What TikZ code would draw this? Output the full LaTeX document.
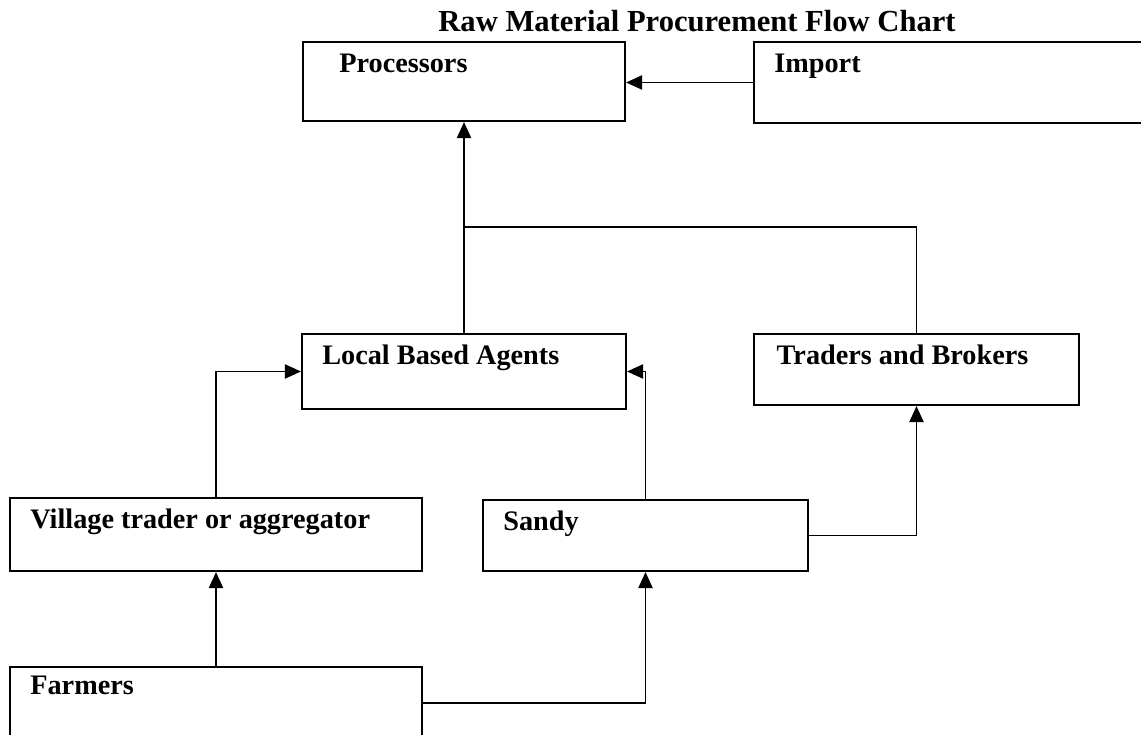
\documentclass[tikz,border=0pt]{standalone}
\usepackage{fontspec}
\setmainfont{Liberation Serif}
\usetikzlibrary{arrows.meta, fit}
\tikzset{
  box/.style={rectangle, draw=black, line width=0.9pt, inner sep=0pt},
  boxlbl/.style={anchor=base west, inner sep=0pt,
    font=\fontsize{12}{14}\selectfont\bfseries, xshift=8.9pt, yshift=-13.2pt},
  ttl/.style={font=\fontsize{13}{15}\selectfont\bfseries, inner sep=0pt},
  arrow/.style={-{Triangle[length=6.8pt, width=6pt]}, line width=0.75pt, color=black},
  line/.style={line width=0.75pt, color=black}
}

\begin{document}
\begin{tikzpicture}[x=0.4248pt, y=-0.4248pt]
  \useasboundingbox (0,0) rectangle (1141,735);

  \node[ttl] (title) at (697,21) {Raw Material Procurement Flow Chart};

  % boxes
  \node[box, fit={(303,42) (625,121)},
    label={[boxlbl, xshift=6.8pt]north west:Processors}] (proc) {};
  \node[box, fit={(754,42) (1160,123)},
    label={[boxlbl]north west:Import}] (imp) {};
  \node[box, fit={(302,334) (626,409)},
    label={[boxlbl]north west:Local Based Agents}] (lba) {};
  \node[box, fit={(754,334) (1079,405)},
    label={[boxlbl, xshift=1pt]north west:Traders and Brokers}] (trb) {};
  \node[box, fit={(10,498) (422,571)},
    label={[boxlbl]north west:Village trader or aggregator}] (vil) {};
  \node[box, fit={(483,500) (808,571)},
    label={[boxlbl]north west:Sandy}] (san) {};
  \node[box, fit={(10,667) (422,739)},
    label={[boxlbl, yshift=1pt]north west:Farmers}] (frm) {};

  \coordinate (jn) at (464,227);

  % connectors
  \draw[arrow] (imp.west) -- (imp.west -| proc.east);
  \draw[arrow] (lba.north) -- (proc.south);
  \draw[line] (trb.north) |- (jn);
  \draw[arrow] (vil.north) |- (lba.west);
  \draw[arrow] (san.north) |- (lba.east);
  \draw[arrow] (san.east) -| (trb.south);
  \draw[arrow] (frm.north) -- (vil.south);
  \draw[arrow] (frm.east) -| (san.south);
\end{tikzpicture}
\end{document}
